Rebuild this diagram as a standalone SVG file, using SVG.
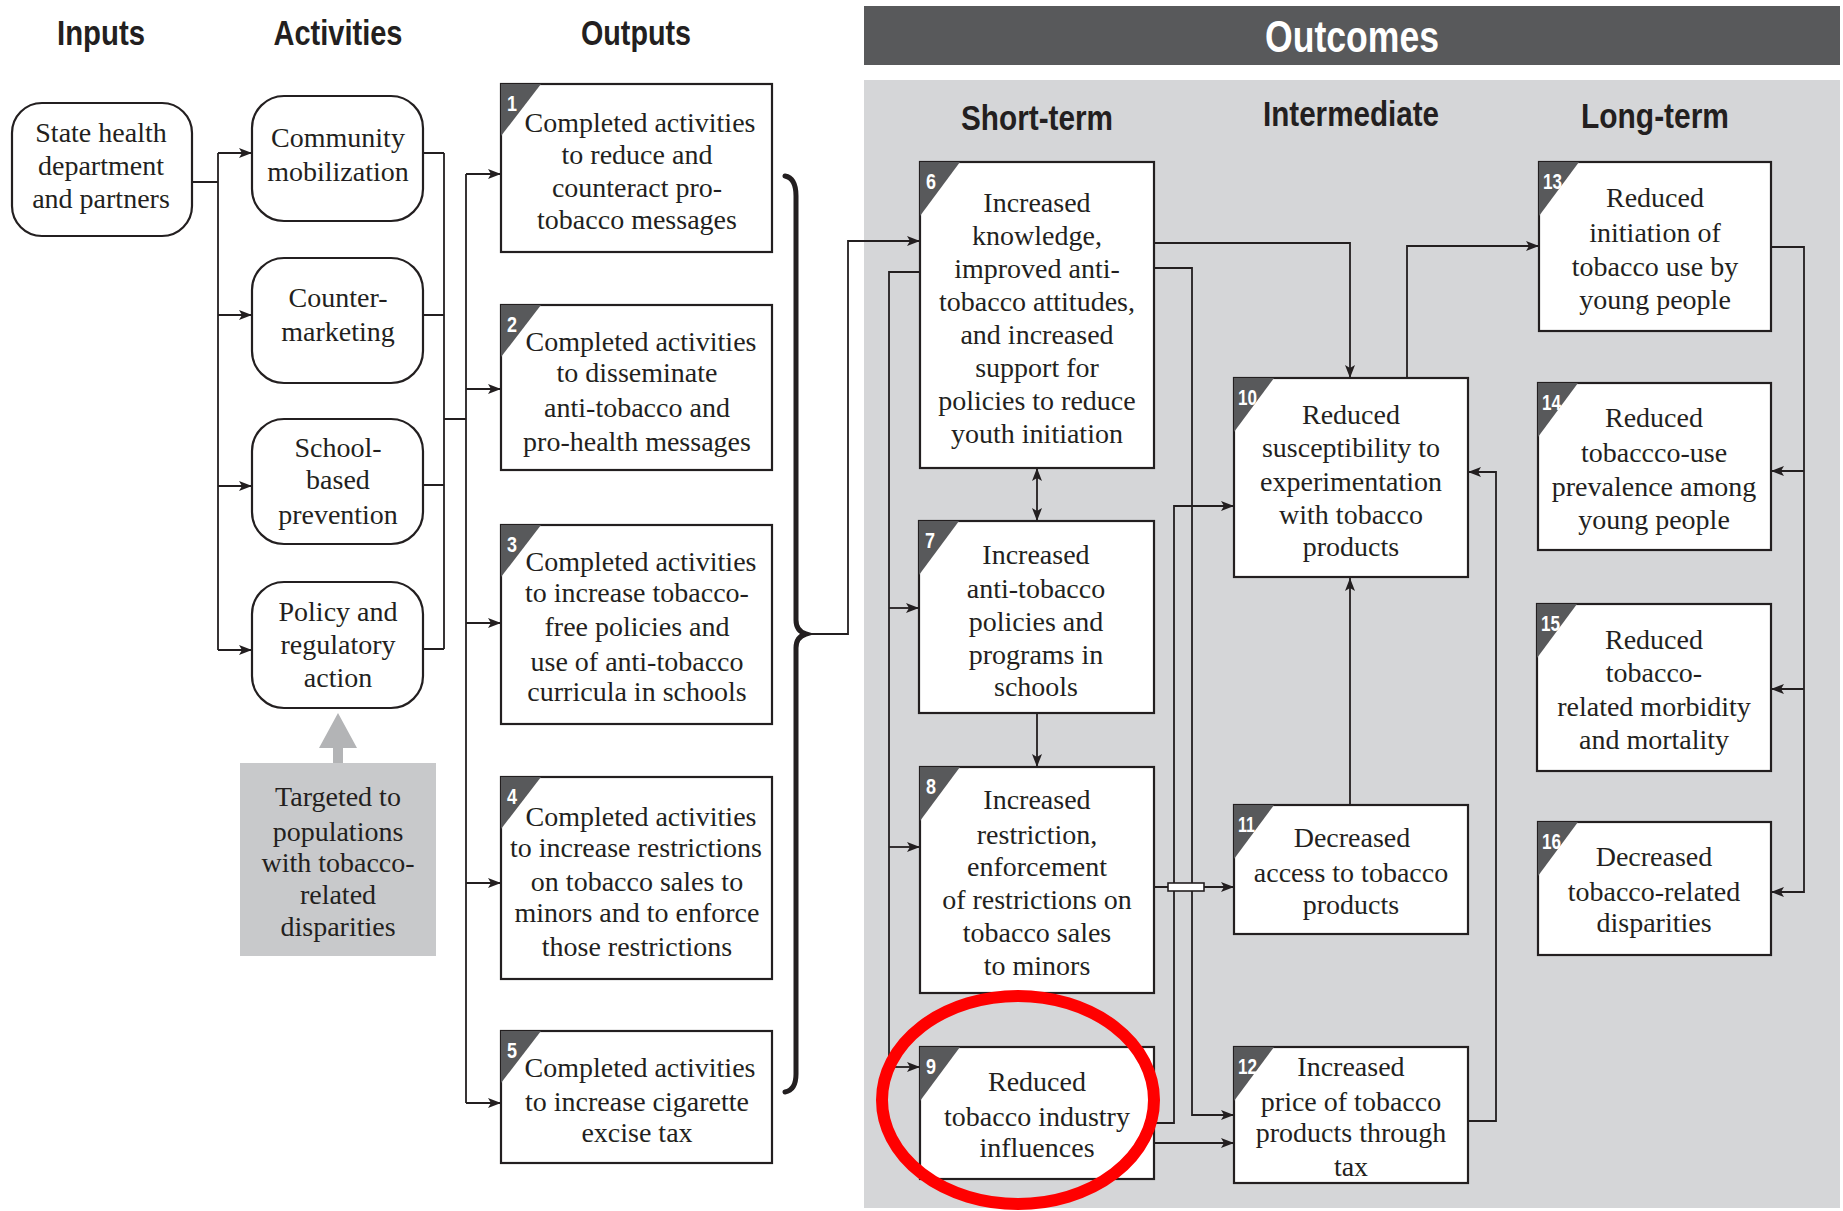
<svg xmlns="http://www.w3.org/2000/svg" width="1843" height="1211" viewBox="0 0 1843 1211">
  <style>
    .hd { font-family: "Liberation Sans Narrow", "Liberation Sans", Arial, sans-serif; font-weight: bold; font-size: 35px; text-anchor: middle; fill: #231f20; }
    .hdw { fill: #ffffff; font-size: 44px; }
    .t { font-family: "Liberation Serif", "DejaVu Serif", serif; font-size: 28px; text-anchor: middle; fill: #231f20; }
    .box { fill: #ffffff; stroke: #231f20; stroke-width: 2.2; }
    .act { fill: #ffffff; stroke: #231f20; stroke-width: 2.2; }
    .tag { fill: #58595b; }
    .num { font-family: "Liberation Sans Narrow", "Liberation Sans", Arial, sans-serif; font-weight: bold; font-size: 22px; fill: #ffffff; }
    .ln { fill: none; stroke: #231f20; stroke-width: 1.8; }
    .arr { marker-end: url(#ah); }
  </style>
  <defs>
    <marker id="ah" viewBox="0 0 13 10" refX="13" refY="5" markerWidth="13" markerHeight="10" markerUnits="userSpaceOnUse" orient="auto-start-reverse">
      <path d="M0,0 L13,5 L0,10 L3,5 Z" fill="#231f20"/>
    </marker>
  </defs>

  <rect width="1843" height="1211" fill="#ffffff"/>

  <!-- outcomes banner and panel -->
  <rect x="864" y="6" width="976" height="59" fill="#58595b"/>
  <rect x="864" y="80" width="976" height="1128" fill="#d5d6d8"/>

  <!-- column headings -->
  <g id="headings">
    <text class="hd" x="101" y="45" textLength="88" lengthAdjust="spacingAndGlyphs">Inputs</text>
    <text class="hd" x="338" y="45" textLength="129" lengthAdjust="spacingAndGlyphs">Activities</text>
    <text class="hd" x="636" y="45" textLength="110" lengthAdjust="spacingAndGlyphs">Outputs</text>
    <text class="hd hdw" x="1352" y="52" textLength="174" lengthAdjust="spacingAndGlyphs">Outcomes</text>
    <text class="hd" x="1037" y="130" textLength="152" lengthAdjust="spacingAndGlyphs">Short-term</text>
    <text class="hd" x="1351" y="126" textLength="176" lengthAdjust="spacingAndGlyphs">Intermediate</text>
    <text class="hd" x="1655" y="128" textLength="148" lengthAdjust="spacingAndGlyphs">Long-term</text>
  </g>

  <!-- connectors -->
  <g id="connectors" class="ln">
    <!-- inputs to activities -->
    <path d="M192,182 H218 M218,153 V650"/>
    <path class="arr" d="M218,153 H252"/>
    <path class="arr" d="M218,315 H252"/>
    <path class="arr" d="M218,486 H252"/>
    <path class="arr" d="M218,650 H252"/>
    <!-- activities to outputs -->
    <path d="M423,153 H444 M423,315 H444 M423,485 H444 M423,649 H444 M444,153 V649 M444,419 H466 M466,174 V1103"/>
    <path class="arr" d="M466,174 H501"/>
    <path class="arr" d="M466,389 H501"/>
    <path class="arr" d="M466,623 H501"/>
    <path class="arr" d="M466,883 H501"/>
    <path class="arr" d="M466,1103 H501"/>
    <!-- brace grouping the outputs -->
    <path d="M785,176 Q796,178 796,196 L796,620 Q796,631 806,634 Q796,637 796,648 L796,1074 Q796,1090 785,1092" stroke-width="5" stroke-linecap="round"/>
    <path class="arr" d="M808,634 H848 V241 H920"/>
    <!-- short-term links -->
    <path d="M920,272 H889 V1067"/>
    <path class="arr" d="M889,608 H919"/>
    <path class="arr" d="M889,847 H920"/>
    <path class="arr" d="M889,1067 H920"/>
    <path class="arr" d="M1037,468 V521" marker-start="url(#ah)"/>
    <path class="arr" d="M1037,713 V767"/>
    <path class="arr" d="M1154,243 H1350 V378"/>
    <path class="arr" d="M1154,268 H1192 V1115 H1234"/>
    <path class="arr" d="M1154,1123 H1174 V506 H1234"/>
    <path class="arr" d="M1154,1143 H1234"/>
    <path class="arr" d="M1154,887 H1234"/>
    <rect x="1168" y="883" width="36" height="8" fill="#ffffff" stroke-width="1.6"/>
    <!-- intermediate links -->
    <path class="arr" d="M1350,805 V578"/>
    <path class="arr" d="M1468,1121 H1496 V472 H1468"/>
    <path class="arr" d="M1407,378 V246 H1539"/>
    <!-- long-term links -->
    <path class="arr" d="M1771,247 H1804 V892 H1771"/>
    <path class="arr" d="M1804,471 H1771"/>
    <path class="arr" d="M1804,689 H1771"/>
  </g>

  <!-- input -->
  <g id="input">
    <rect class="act" x="12" y="103" width="180" height="133" rx="30"/>
    <text class="t"><tspan x="101" y="142">State health</tspan><tspan x="101" y="175">department</tspan><tspan x="101" y="208">and partners</tspan></text>
  </g>

  <!-- activities -->
  <g id="act-community">
    <rect class="act" x="252" y="96" width="171" height="125" rx="32"/>
    <text class="t"><tspan x="338" y="147">Community</tspan><tspan x="338" y="181">mobilization</tspan></text>
  </g>
  <g id="act-counter">
    <rect class="act" x="252" y="258" width="171" height="125" rx="32"/>
    <text class="t"><tspan x="338" y="307">Counter-</tspan><tspan x="338" y="341">marketing</tspan></text>
  </g>
  <g id="act-school">
    <rect class="act" x="252" y="419" width="171" height="125" rx="32"/>
    <text class="t"><tspan x="338" y="457">School-</tspan><tspan x="338" y="489">based</tspan><tspan x="338" y="524">prevention</tspan></text>
  </g>
  <g id="act-policy">
    <rect class="act" x="252" y="582" width="171" height="126" rx="32"/>
    <text class="t"><tspan x="338" y="621">Policy and</tspan><tspan x="338" y="654">regulatory</tspan><tspan x="338" y="687">action</tspan></text>
  </g>

  <!-- targeting note -->
  <g id="targeted">
    <polygon points="338,713 357,748 343,748 343,763 333,763 333,748 319,748" fill="#b3b4b6"/>
    <rect x="240" y="763" width="196" height="193" fill="#c8c9cb"/>
    <text class="t"><tspan x="338" y="806">Targeted to</tspan><tspan x="338" y="841">populations</tspan><tspan x="338" y="872">with tobacco-</tspan><tspan x="338" y="904">related</tspan><tspan x="338" y="936">disparities</tspan></text>
  </g>

  <!-- outputs -->
  <g id="out-1">
    <rect class="box" x="501" y="84" width="271" height="168"/>
    <polygon class="tag" points="501,84 541,84 501,136"/>
    <text class="num" x="507" y="111" textLength="10" lengthAdjust="spacingAndGlyphs">1</text>
    <text class="t"><tspan x="640" y="132">Completed activities</tspan><tspan x="637" y="164">to reduce and</tspan><tspan x="637" y="197">counteract pro-</tspan><tspan x="637" y="229">tobacco messages</tspan></text>
  </g>
  <g id="out-2">
    <rect class="box" x="501" y="305" width="271" height="165"/>
    <polygon class="tag" points="501,305 541,305 501,357"/>
    <text class="num" x="507" y="332" textLength="10" lengthAdjust="spacingAndGlyphs">2</text>
    <text class="t"><tspan x="641" y="351">Completed activities</tspan><tspan x="637" y="382">to disseminate</tspan><tspan x="637" y="417">anti-tobacco and</tspan><tspan x="637" y="451">pro-health messages</tspan></text>
  </g>
  <g id="out-3">
    <rect class="box" x="501" y="525" width="271" height="199"/>
    <polygon class="tag" points="501,525 541,525 501,577"/>
    <text class="num" x="507" y="552" textLength="10" lengthAdjust="spacingAndGlyphs">3</text>
    <text class="t"><tspan x="641" y="571">Completed activities</tspan><tspan x="637" y="602">to increase tobacco-</tspan><tspan x="637" y="636">free policies and</tspan><tspan x="637" y="671">use of anti-tobacco</tspan><tspan x="637" y="701">curricula in schools</tspan></text>
  </g>
  <g id="out-4">
    <rect class="box" x="501" y="777" width="271" height="202"/>
    <polygon class="tag" points="501,777 541,777 501,829"/>
    <text class="num" x="507" y="804" textLength="10" lengthAdjust="spacingAndGlyphs">4</text>
    <text class="t"><tspan x="641" y="826">Completed activities</tspan><tspan x="636" y="857">to increase restrictions</tspan><tspan x="637" y="891">on tobacco sales to</tspan><tspan x="637" y="922">minors and to enforce</tspan><tspan x="637" y="956">those restrictions</tspan></text>
  </g>
  <g id="out-5">
    <rect class="box" x="501" y="1031" width="271" height="132"/>
    <polygon class="tag" points="501,1031 541,1031 501,1083"/>
    <text class="num" x="507" y="1058" textLength="10" lengthAdjust="spacingAndGlyphs">5</text>
    <text class="t"><tspan x="640" y="1077">Completed activities</tspan><tspan x="637" y="1111">to increase cigarette</tspan><tspan x="637" y="1142">excise tax</tspan></text>
  </g>

  <!-- short-term outcomes -->
  <g id="oc-6">
    <rect class="box" x="920" y="162" width="234" height="306"/>
    <polygon class="tag" points="920,162 960,162 920,216"/>
    <text class="num" x="926" y="189" textLength="10" lengthAdjust="spacingAndGlyphs">6</text>
    <text class="t"><tspan x="1037" y="212">Increased</tspan><tspan x="1037" y="245">knowledge,</tspan><tspan x="1037" y="278">improved anti-</tspan><tspan x="1037" y="311">tobacco attitudes,</tspan><tspan x="1037" y="344">and increased</tspan><tspan x="1037" y="377">support for</tspan><tspan x="1037" y="410">policies to reduce</tspan><tspan x="1037" y="443">youth initiation</tspan></text>
  </g>
  <g id="oc-7">
    <rect class="box" x="919" y="521" width="235" height="192"/>
    <polygon class="tag" points="919,521 959,521 919,575"/>
    <text class="num" x="925" y="548" textLength="10" lengthAdjust="spacingAndGlyphs">7</text>
    <text class="t"><tspan x="1036" y="564">Increased</tspan><tspan x="1036" y="598">anti-tobacco</tspan><tspan x="1036" y="631">policies and</tspan><tspan x="1036" y="664">programs in</tspan><tspan x="1036" y="696">schools</tspan></text>
  </g>
  <g id="oc-8">
    <rect class="box" x="920" y="767" width="234" height="226"/>
    <polygon class="tag" points="920,767 960,767 920,821"/>
    <text class="num" x="926" y="794" textLength="10" lengthAdjust="spacingAndGlyphs">8</text>
    <text class="t"><tspan x="1037" y="809">Increased</tspan><tspan x="1037" y="844">restriction,</tspan><tspan x="1037" y="876">enforcement</tspan><tspan x="1037" y="909">of restrictions on</tspan><tspan x="1037" y="942">tobacco sales</tspan><tspan x="1037" y="975">to minors</tspan></text>
  </g>
  <g id="oc-9">
    <rect class="box" x="920" y="1047" width="234" height="132"/>
    <polygon class="tag" points="920,1047 960,1047 920,1101"/>
    <text class="num" x="926" y="1074" textLength="10" lengthAdjust="spacingAndGlyphs">9</text>
    <text class="t"><tspan x="1037" y="1091">Reduced</tspan><tspan x="1037" y="1126">tobacco industry</tspan><tspan x="1037" y="1157">influences</tspan></text>
  </g>

  <!-- intermediate outcomes -->
  <g id="oc-10">
    <rect class="box" x="1234" y="378" width="234" height="199"/>
    <polygon class="tag" points="1234,378 1274,378 1234,432"/>
    <text class="num" x="1238" y="405" textLength="19" lengthAdjust="spacingAndGlyphs">10</text>
    <text class="t"><tspan x="1351" y="424">Reduced</tspan><tspan x="1351" y="457">susceptibility to</tspan><tspan x="1351" y="491">experimentation</tspan><tspan x="1351" y="524">with tobacco</tspan><tspan x="1351" y="556">products</tspan></text>
  </g>
  <g id="oc-11">
    <rect class="box" x="1234" y="805" width="234" height="129"/>
    <polygon class="tag" points="1234,805 1274,805 1234,859"/>
    <text class="num" x="1238" y="832" textLength="17" lengthAdjust="spacingAndGlyphs">11</text>
    <text class="t"><tspan x="1352" y="847">Decreased</tspan><tspan x="1351" y="882">access to tobacco</tspan><tspan x="1351" y="914">products</tspan></text>
  </g>
  <g id="oc-12">
    <rect class="box" x="1234" y="1047" width="234" height="136"/>
    <polygon class="tag" points="1234,1047 1274,1047 1234,1101"/>
    <text class="num" x="1238" y="1074" textLength="19" lengthAdjust="spacingAndGlyphs">12</text>
    <text class="t"><tspan x="1351" y="1076">Increased</tspan><tspan x="1351" y="1111">price of tobacco</tspan><tspan x="1351" y="1142">products through</tspan><tspan x="1351" y="1176">tax</tspan></text>
  </g>

  <!-- long-term outcomes -->
  <g id="oc-13">
    <rect class="box" x="1539" y="162" width="232" height="169"/>
    <polygon class="tag" points="1539,162 1579,162 1539,216"/>
    <text class="num" x="1543" y="189" textLength="19" lengthAdjust="spacingAndGlyphs">13</text>
    <text class="t"><tspan x="1655" y="207">Reduced</tspan><tspan x="1655" y="242">initiation of</tspan><tspan x="1655" y="276">tobacco use by</tspan><tspan x="1655" y="309">young people</tspan></text>
  </g>
  <g id="oc-14">
    <rect class="box" x="1538" y="383" width="233" height="167"/>
    <polygon class="tag" points="1538,383 1578,383 1538,437"/>
    <text class="num" x="1542" y="410" textLength="19" lengthAdjust="spacingAndGlyphs">14</text>
    <text class="t"><tspan x="1654" y="427">Reduced</tspan><tspan x="1654" y="462">tobaccco-use</tspan><tspan x="1654" y="496">prevalence among</tspan><tspan x="1654" y="529">young people</tspan></text>
  </g>
  <g id="oc-15">
    <rect class="box" x="1537" y="604" width="234" height="167"/>
    <polygon class="tag" points="1537,604 1577,604 1537,658"/>
    <text class="num" x="1541" y="631" textLength="19" lengthAdjust="spacingAndGlyphs">15</text>
    <text class="t"><tspan x="1654" y="649">Reduced</tspan><tspan x="1654" y="682">tobacco-</tspan><tspan x="1654" y="716">related morbidity</tspan><tspan x="1654" y="749">and mortality</tspan></text>
  </g>
  <g id="oc-16">
    <rect class="box" x="1538" y="822" width="233" height="133"/>
    <polygon class="tag" points="1538,822 1578,822 1538,876"/>
    <text class="num" x="1542" y="849" textLength="19" lengthAdjust="spacingAndGlyphs">16</text>
    <text class="t"><tspan x="1654" y="866">Decreased</tspan><tspan x="1654" y="901">tobacco-related</tspan><tspan x="1654" y="932">disparities</tspan></text>
  </g>

  <!-- highlight ring -->
  <ellipse cx="1018" cy="1100" rx="136" ry="104" fill="none" stroke="#ff0000" stroke-width="12"/>
</svg>
